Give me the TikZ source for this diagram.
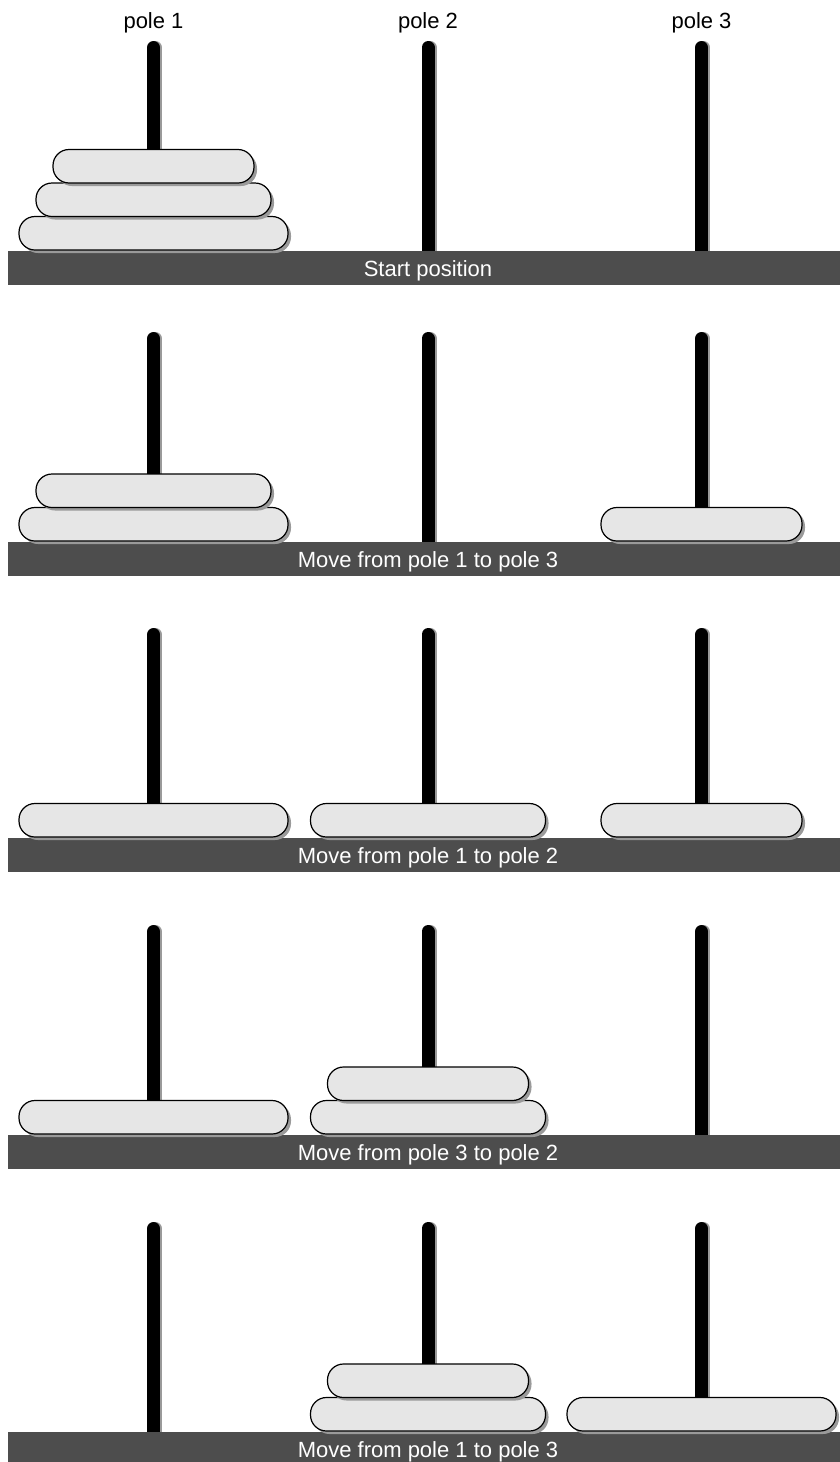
\documentclass[tikz,border=0pt]{standalone}
\usepackage{fontspec}
\setmainfont{Liberation Sans}
\definecolor{diskfill}{HTML}{E6E6E6}
\definecolor{basefill}{HTML}{4D4D4D}
\definecolor{shadowgray}{HTML}{9A9A9A}
\tikzset{
 diskbox/.style={fill=diskfill, draw=black, line width=1.2pt, rounded corners=16pt},
 diskshadow/.style={fill=shadowgray, rounded corners=16pt},
 polebar/.style={line width=13pt, line cap=round, draw=black},
 poleshadow/.style={line width=13pt, line cap=round, draw=shadowgray},
 basebar/.style={fill=basefill, draw=none, inner sep=0pt, minimum width=832pt, anchor=north west},
 lbl/.style={font=\fontsize{22}{26}\selectfont, inner sep=0pt, anchor=base},
}
\newcommand\hdisk[3]{%
  \fill[diskshadow] (#1-#3/2+3, #2+3) rectangle (#1+#3/2+3, #2-33.5+3);
  \draw[diskbox] (#1-#3/2, #2) rectangle (#1+#3/2, #2-33.5);
}
\begin{document}
\begin{tikzpicture}[x=1pt,y=-1pt]
\useasboundingbox (0,0) rectangle (840,1462);
% pole labels
\node[lbl] (p1) at (153.5,28) {pole 1};
\node[lbl] (p2) at (428,28) {pole 2};
\node[lbl] (p3) at (701.5,28) {pole 3};
% poles
\foreach \b in {251,542,838,1135,1432}{
  \foreach \x in {153.5,428,701.5}{
    \draw[poleshadow] (\x+2,\b) -- (\x+2,\b-203.5);
    \draw[polebar] (\x,\b) -- (\x,\b-203.5);
  }
}
% bases
\node[basebar, minimum height=34pt] (bar1) at (8,251) {};
\node[basebar, minimum height=34pt] (bar2) at (8,542) {};
\node[basebar, minimum height=34pt] (bar3) at (8,838) {};
\node[basebar, minimum height=34pt] (bar4) at (8,1135) {};
\node[basebar, minimum height=30pt] (bar5) at (8,1432) {};
\node[lbl, text=white] (t1) at (428,276) {Start position};
\node[lbl, text=white] (t2) at (428,567) {Move from pole 1 to pole 3};
\node[lbl, text=white] (t3) at (428,863) {Move from pole 1 to pole 2};
\node[lbl, text=white] (t4) at (428,1160) {Move from pole 3 to pole 2};
\node[lbl, text=white] (t5) at (428,1457) {Move from pole 1 to pole 3};
% panel 1
\hdisk{153.5}{250}{269}
\hdisk{153.5}{216.5}{235}
\hdisk{153.5}{183}{201}
% panel 2
\hdisk{153.5}{541}{269}
\hdisk{153.5}{507.5}{235}
\hdisk{701.5}{541}{201}
% panel 3
\hdisk{153.5}{837}{269}
\hdisk{428}{837}{235}
\hdisk{701.5}{837}{201}
% panel 4
\hdisk{153.5}{1134}{269}
\hdisk{428}{1134}{235}
\hdisk{428}{1100.5}{201}
% panel 5
\hdisk{428}{1431}{235}
\hdisk{428}{1397.5}{201}
\hdisk{701.5}{1431}{269}
\end{tikzpicture}
\end{document}
